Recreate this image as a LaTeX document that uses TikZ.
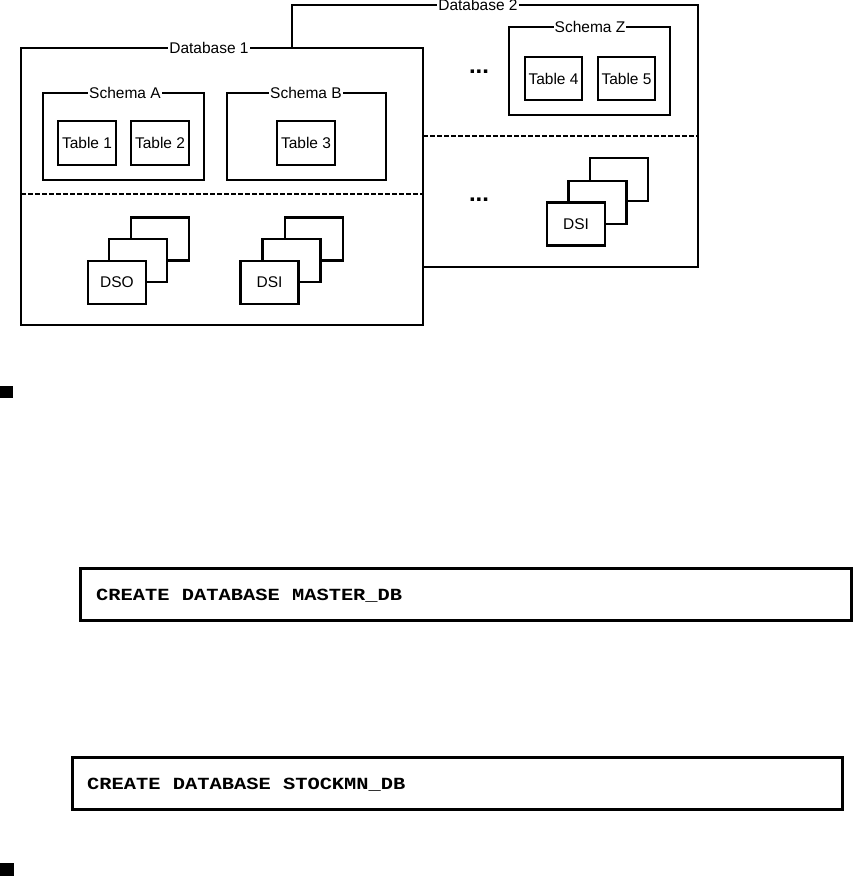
\documentclass[tikz,border=0pt]{standalone}
\usepackage{fontspec}
\setmainfont{Liberation Sans}
\newfontfamily\codefont{Liberation Mono}
\begin{document}
\begin{tikzpicture}[x=1pt,y=-1pt,
  box/.style={draw, line width=2.4pt, fill=white, inner sep=0pt, outer sep=0pt},
  lbl/.style={fill=white, inner sep=1pt, font=\fontsize{15.5}{17}\selectfont},
  tbl/.style={box, minimum width=58pt, minimum height=44pt, font=\fontsize{15.5}{17}\selectfont},
  ds/.style={box, minimum width=58pt, minimum height=43pt, font=\fontsize{15.5}{17}\selectfont},
  sep/.style={line width=2.4pt, dash pattern=on 5pt off 2pt},
  dots/.style={font=\fontsize{24}{26}\selectfont\bfseries, inner sep=0pt},
  codebox/.style={draw, line width=3pt, inner sep=0pt},
  codetxt/.style={anchor=west, inner sep=0pt, font=\codefont\bfseries\fontsize{17}{19}\selectfont},
  bullet/.style={fill=black}]
\useasboundingbox (0,0) rectangle (854,876);
\clip (0,0) rectangle (854,876);

% Database 2 (behind)
\node[box, minimum width=406pt, minimum height=262pt] (db2) at (495,136) {};
\node[lbl] (db2l) at (478,5) {Database 2};
\node[box, minimum width=161pt, minimum height=88pt] (sz) at (589.5,71) {};
\node[lbl] (szl) at (590,27) {Schema Z};
\node[tbl, minimum width=57pt, minimum height=43pt] (t4) at (553.5,78.5) {Table 4};
\node[tbl, minimum width=57pt, minimum height=43pt] (t5) at (626.5,78.5) {Table 5};
\coordinate (s2a) at (423,136);
\coordinate (s2b) at (698,136);
\draw[sep] (s2a) -- (s2b);
\node[dots] (d2a) at (479,72) {...};
\node[dots] (d2b) at (479,200) {...};
\node[ds] (dz3) at (619,179.5) {};
\node[ds] (dz2) at (597.5,202.5) {};
\node[ds] (dz1) at (576,224) {DSI};

% Database 1 (front)
\node[box, minimum width=402pt, minimum height=277pt] (db1) at (222,186.5) {};
\node[lbl] (db1l) at (209,48) {Database 1};
\node[box, minimum width=161pt, minimum height=87pt] (sa) at (123.5,136.5) {};
\node[lbl] (sal) at (125,93) {Schema A};
\node[box, minimum width=159pt, minimum height=87pt] (sb) at (306.5,136.5) {};
\node[lbl] (sbl) at (306,93) {Schema B};
\node[tbl] (t1) at (87,143) {Table 1};
\node[tbl] (t2) at (160,143) {Table 2};
\node[tbl] (t3) at (306,143) {Table 3};
\coordinate (s1a) at (21,194);
\coordinate (s1b) at (423,194);
\draw[sep] (s1a) -- (s1b);
\node[ds] (do3) at (160,239) {};
\node[ds] (do2) at (138,260.5) {};
\node[ds] (do1) at (117,282.5) {DSO};
\node[ds] (di3) at (314,239) {};
\node[ds] (di2) at (291.5,260.5) {};
\node[ds] (di1) at (269.5,282.5) {DSI};

% bullets
\fill[bullet] (0,386) rectangle (13,398);
\fill[bullet] (0,863) rectangle (14,876);

% code boxes
\node[codebox, minimum width=771pt, minimum height=52pt] (c1) at (465.5,594) {};
\node[codetxt] (c1t) at (96,596) {\scalebox{1.2}[1]{CREATE DATABASE MASTER\_DB}};
\node[codebox, minimum width=770pt, minimum height=52pt] (c2) at (457,783) {};
\node[codetxt] (c2t) at (87,785) {\scalebox{1.2}[1]{CREATE DATABASE STOCKMN\_DB}};
\end{tikzpicture}
\end{document}
